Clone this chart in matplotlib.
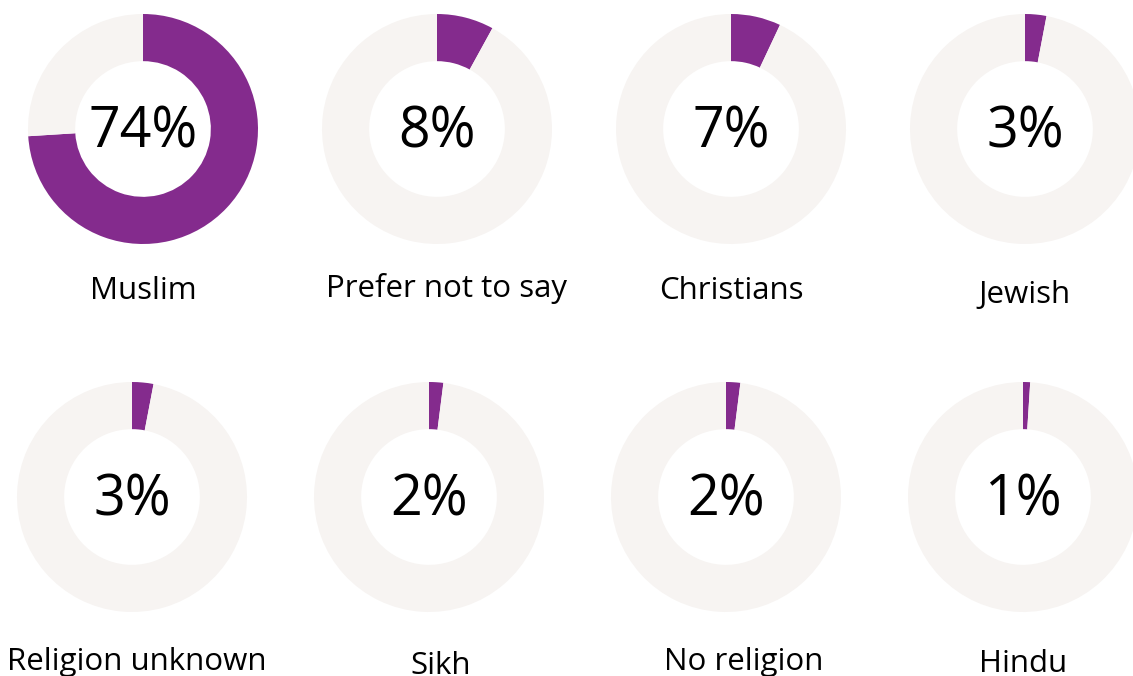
import matplotlib
matplotlib.use("Agg")
import matplotlib.pyplot as plt

labels = ["Muslim", "Prefer not to say", "Christians", "Jewish",
          "Religion unknown", "Sikh", "No religion", "Hindu"]
values = [74, 8, 7, 3, 3, 2, 2, 1]

purple = "#842b8d"
grey = "#f7f4f2"

# donut centres in pixels (top-left origin), label positions
cx = [143, 437, 731, 1025, 132, 429, 726, 1023]
cy = [129, 129, 129, 129, 497, 497, 497, 497]
lx = [143, 447, 731, 1025, 137, 441, 744, 1023]
ly = [291, 288, 291, 295, 662, 666, 662, 664]
R = 115
W = 0.41

W_PX, H_PX = 1133, 676
fig = plt.figure(figsize=(W_PX / 100, H_PX / 100), dpi=100)
ax = fig.add_axes([0, 0, 1, 1])

for i in range(len(values)):
    v = values[i]
    ax.pie([v, 100 - v], colors=[purple, grey], startangle=90, counterclock=False,
           center=(cx[i], H_PX - cy[i]), radius=R,
           wedgeprops=dict(width=R * W, linewidth=0), frame=True)
    ax.text(cx[i], H_PX - cy[i] - 4, "%d%%" % v, ha="center", va="center",
            fontsize=40, family="Open Sans", color="black")
    ax.text(lx[i], H_PX - ly[i], labels[i], ha="center", va="center",
            fontsize=22.5, family="Open Sans", color="black")

ax.set_xlim(0, W_PX)
ax.set_ylim(0, H_PX)
ax.set_aspect("equal")
ax.axis("off")
fig.savefig("out.png", dpi=100)
